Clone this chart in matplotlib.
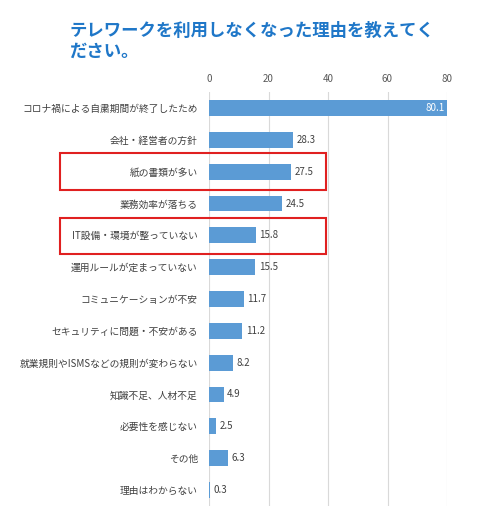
import matplotlib
matplotlib.use("Agg")
import matplotlib.pyplot as plt
from matplotlib.patches import Rectangle

plt.rcParams['font.family'] = ['Noto Sans CJK JP', 'DejaVu Sans']

categories = ["コロナ禍による自粛期間が終了したため", "会社・経営者の方針", "紙の書類が多い", "業務効率が落ちる",
              "IT設備・環境が整っていない", "運用ルールが定まっていない", "コミュニケーションが不安",
              "セキュリティに問題・不安がある", "就業規則やISMSなどの規則が変わらない", "知識不足、人材不足",
              "必要性を感じない", "その他", "理由はわからない"]
values = [80.1, 28.3, 27.5, 24.5, 15.8, 15.5, 11.7, 11.2, 8.2, 4.9, 2.5, 6.3, 0.3]
xticks = [0, 20, 40, 60, 80]

fig = plt.figure(figsize=(5, 5.12), dpi=100)
ax = fig.add_axes([0.418, 0.012, 0.476, 0.808])
y = list(range(len(categories)))
ax.barh(y, values, height=0.5, color='#5B9BD5')
ax.set_ylim(len(categories) - 0.5, -0.5)
ax.set_xlim(0, 80)
ax.set_xticks(xticks)
ax.xaxis.tick_top()
ax.tick_params(axis='x', length=0, labelsize=7, colors='#595959', pad=6)
ax.tick_params(axis='y', length=0, labelsize=7, colors='#404040', pad=8)
ax.set_yticks(y)
ax.set_yticklabels(categories)
ax.grid(axis='x', color='#D9D9D9', linewidth=0.8)
ax.set_axisbelow(True)
for s in ax.spines.values():
    s.set_visible(False)
for yi, v in zip(y, values):
    if v > 70:
        ax.text(v - 1, yi, f"{v}", ha='right', va='center', color='white', fontsize=7)
    else:
        ax.text(v + 1.2, yi, f"{v}", ha='left', va='center', color='#404040', fontsize=7)

fig.text(0.14, 0.94, "テレワークを利用しなくなった理由を教えてく", color='#1F77C8', fontsize=12.5, fontweight='bold', va='center')
fig.text(0.14, 0.898, "ださい。", color='#1F77C8', fontsize=12.5, fontweight='bold', va='center')

for (yt, yb) in [(153, 190), (218, 254)]:
    fig.patches.append(Rectangle((60/500, 1 - yb/512), 266/500, (yb - yt)/512,
                                 transform=fig.transFigure, fill=False, edgecolor='#E02020', linewidth=1.5))
fig.savefig("out.png")
